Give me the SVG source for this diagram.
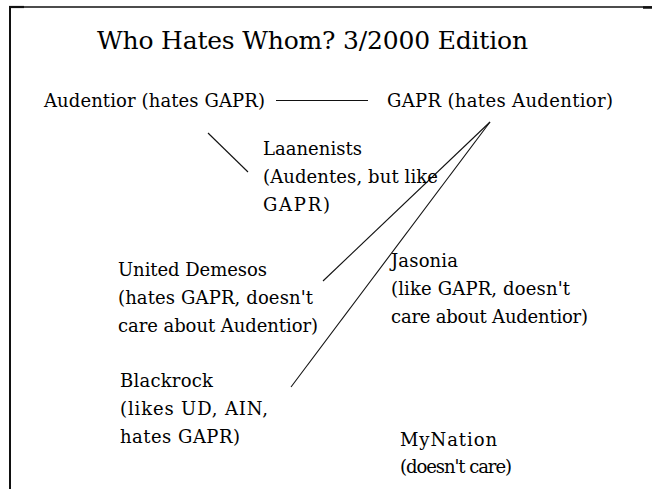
<svg xmlns="http://www.w3.org/2000/svg" width="652" height="489" viewBox="0 0 652 489">
<style>
text { font-family: "DejaVu Serif", "Liberation Serif", serif; font-size: 18px; fill: #000; }
.title { font-size: 25px; }
.frame { stroke: #111; fill: none; }
.conn line { stroke: #111; stroke-width: 1.1; }
</style>
<rect width="652" height="489" fill="#fff"/>
<g id="frame">
  <line class="frame" x1="9" y1="7" x2="652" y2="7" stroke-width="1.5"/>
  <line class="frame" x1="9" y1="7" x2="24" y2="7" stroke-width="2.2"/>
  <line class="frame" x1="643" y1="7.5" x2="652" y2="7.5" stroke-width="2.5"/>
  <line class="frame" x1="10" y1="6" x2="10" y2="489" stroke-width="2"/>
</g>
<g id="title"><text class="title" x="97" y="49" textLength="431">Who Hates Whom? 3/2000 Edition</text></g>
<g class="conn" id="connectors">
  <line x1="276" y1="100.5" x2="368" y2="100.5"/>
  <line x1="208" y1="133" x2="248" y2="172"/>
  <line x1="490" y1="122" x2="323" y2="281"/>
  <line x1="490" y1="122" x2="291" y2="387"/>
</g>
<g id="audentior"><text x="44" y="107" textLength="221">Audentior (hates GAPR)</text></g>
<g id="gapr"><text x="387" y="107" textLength="226">GAPR (hates Audentior)</text></g>
<g id="laanenists">
  <text x="263" y="155" textLength="99">Laanenists</text>
  <text x="263" y="183" textLength="175">(Audentes, but like</text>
  <text x="263" y="211" textLength="67">GAPR)</text>
</g>
<g id="united-demesos">
  <text x="118" y="276" textLength="149">United Demesos</text>
  <text x="118" y="304" textLength="195">(hates GAPR, doesn't</text>
  <text x="118" y="332" textLength="200">care about Audentior)</text>
</g>
<g id="jasonia">
  <text x="391" y="267" textLength="67">Jasonia</text>
  <text x="391" y="295" textLength="179">(like GAPR, doesn't</text>
  <text x="391" y="323" textLength="197">care about Audentior)</text>
</g>
<g id="blackrock">
  <text x="120" y="387" textLength="93">Blackrock</text>
  <text x="120" y="415" textLength="148">(likes UD, AIN,</text>
  <text x="120" y="443" textLength="120">hates GAPR)</text>
</g>
<g id="mynation">
  <text x="400" y="446" textLength="97">MyNation</text>
  <text x="400" y="473" textLength="112">(doesn't care)</text>
</g>
</svg>
